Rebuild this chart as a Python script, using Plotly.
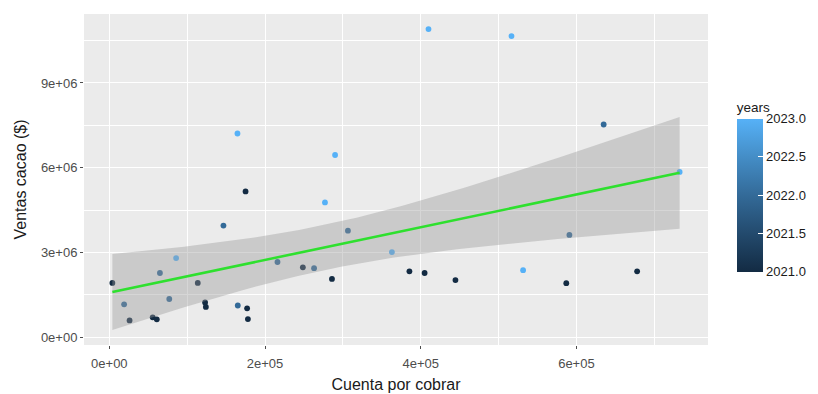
import numpy as np
import plotly.graph_objects as go

# ---- data ----
cuenta_por_cobrar = [3.9e3, 19e3, 26e3, 55.7e3, 61e3, 65e3, 77e3, 85.8e3, 113.6e3, 123e3,
                     124e3, 146.6e3, 165e3, 175e3, 177e3, 178e3, 216e3, 164.6e3, 410e3, 516.6e3,
                     290e3, 277e3, 306.5e3, 248.6e3, 263e3, 286e3, 363e3, 385.5e3, 405e3, 444.6e3,
                     531.5e3, 587e3, 591e3, 635e3, 678e3, 732.6e3]
ventas_cacao = [1.92e6, 1.16e6, 0.59e6, 0.70e6, 0.63e6, 2.27e6, 1.35e6, 2.80e6, 1.92e6, 1.23e6,
                1.07e6, 3.95e6, 1.12e6, 5.16e6, 1.02e6, 0.64e6, 2.66e6, 7.21e6, 10.91e6, 10.66e6,
                6.45e6, 4.77e6, 3.77e6, 2.47e6, 2.44e6, 2.06e6, 3.01e6, 2.33e6, 2.27e6, 2.02e6,
                2.37e6, 1.91e6, 3.62e6, 7.53e6, 2.33e6, 5.85e6]
years = [2021, 2022, 2021, 2021, 2021, 2022, 2022, 2023, 2021, 2021,
         2021, 2022, 2022, 2021, 2021, 2021, 2022, 2023, 2023, 2023,
         2023, 2023, 2022, 2021, 2022, 2021, 2023, 2021, 2021, 2021,
         2023, 2021, 2022, 2022, 2021, 2023]

x_tick_vals = [0, 2e5, 4e5, 6e5]
x_tick_labels = ["0e+00", "2e+05", "4e+05", "6e+05"]
y_tick_vals = [0, 3e6, 6e6, 9e6]
y_tick_labels = ["0e+00", "3e+06", "6e+06", "9e+06"]
cbar_tick_vals = [2021.0, 2021.5, 2022.0, 2022.5, 2023.0]

# ---- linear model with 95% confidence band (like geom_smooth(method="lm")) ----
x = np.array(cuenta_por_cobrar)
y = np.array(ventas_cacao)
n = len(x)
b1, b0 = np.polyfit(x, y, 1)
resid = y - (b0 + b1 * x)
s = np.sqrt(np.sum(resid ** 2) / (n - 2))
sxx = np.sum((x - x.mean()) ** 2)
t975 = 2.0322  # t quantile, df = 34
xs = np.linspace(x.min(), x.max(), 80)
fit = b0 + b1 * xs
se = s * np.sqrt(1 / n + (xs - x.mean()) ** 2 / sxx)
lo = fit - t975 * se
hi = fit + t975 * se

# ggplot-like 5% expansion
xmin, xmax = x.min(), x.max()
ymin, ymax = min(y.min(), lo.min()), max(y.max(), hi.max())
xr = [xmin - 0.05 * (xmax - xmin), xmax + 0.05 * (xmax - xmin)]
yr = [ymin - 0.05 * (ymax - ymin), ymax + 0.05 * (ymax - ymin)]

colorscale = [[0.0, "#132B43"], [0.25, "#234A6D"], [0.5, "#336A98"],
              [0.75, "#448DC6"], [1.0, "#56B1F7"]]

fig = go.Figure()
fig.add_trace(go.Scatter(
    x=cuenta_por_cobrar, y=ventas_cacao, mode="markers",
    marker=dict(size=5.8, color=years, colorscale=colorscale, cmin=2021, cmax=2023,
                line=dict(width=0),
                colorbar=dict(
                    title=dict(text="years", side="top", font=dict(size=13.5, color="#1a1a1a")),
                    tickvals=cbar_tick_vals, tickformat=".1f",
                    ticks="inside", ticklen=5, tickcolor="white",
                    tickfont=dict(size=13, color="#1a1a1a"),
                    thickness=26, len=173, lenmode="pixels",
                    x=1.046, xanchor="left", y=0.483, yanchor="middle",
                    xpad=0, ypad=0, outlinewidth=0)),
    showlegend=False, hoverinfo="skip"))
# band (drawn over the points as in ggplot)
fig.add_trace(go.Scatter(x=np.concatenate([xs, xs[::-1]]), y=np.concatenate([hi, lo[::-1]]),
                         fill="toself", fillcolor="rgba(153,153,153,0.4)",
                         line=dict(width=0), mode="lines", showlegend=False, hoverinfo="skip"))
fig.add_trace(go.Scatter(x=xs, y=fit, mode="lines", line=dict(color="#2EE02E", width=2.6),
                         showlegend=False, hoverinfo="skip"))

axis_common = dict(showgrid=True, gridcolor="white", gridwidth=1.4, zeroline=False,
                   ticks="outside", ticklen=3, tickcolor="#4D4D4D", tickwidth=1,
                   tickfont=dict(size=13, color="#4D4D4D"), showline=False,
                   automargin=False,
                   minor=dict(showgrid=True, gridcolor="white", gridwidth=0.6))
fig.update_xaxes(range=xr, tickvals=x_tick_vals, ticktext=x_tick_labels,
                 ticklabelstandoff=3,
                 title=dict(text="Cuenta por cobrar", font=dict(size=16, color="#1a1a1a"), standoff=9),
                 **axis_common)
fig.update_xaxes(minor=dict(tickvals=[-1e5, 1e5, 3e5, 5e5, 7e5], ticks=""))
fig.update_yaxes(range=yr, tickvals=y_tick_vals, ticktext=y_tick_labels,
                 title=dict(text="Ventas cacao ($)", font=dict(size=16, color="#1a1a1a"), standoff=10),
                 **axis_common)
fig.update_yaxes(minor=dict(tickvals=[1.5e6, 4.5e6, 7.5e6, 10.5e6], ticks=""))

# the page body adds an 8px offset, so the figure is 810x386
fig.update_layout(
    width=810, height=386,
    margin=dict(l=76, r=110, t=6, b=49, autoexpand=False),
    plot_bgcolor="#EBEBEB", paper_bgcolor="white",
    font=dict(family="Liberation Sans, Arial, sans-serif"),
)
fig.write_html("out.html")
